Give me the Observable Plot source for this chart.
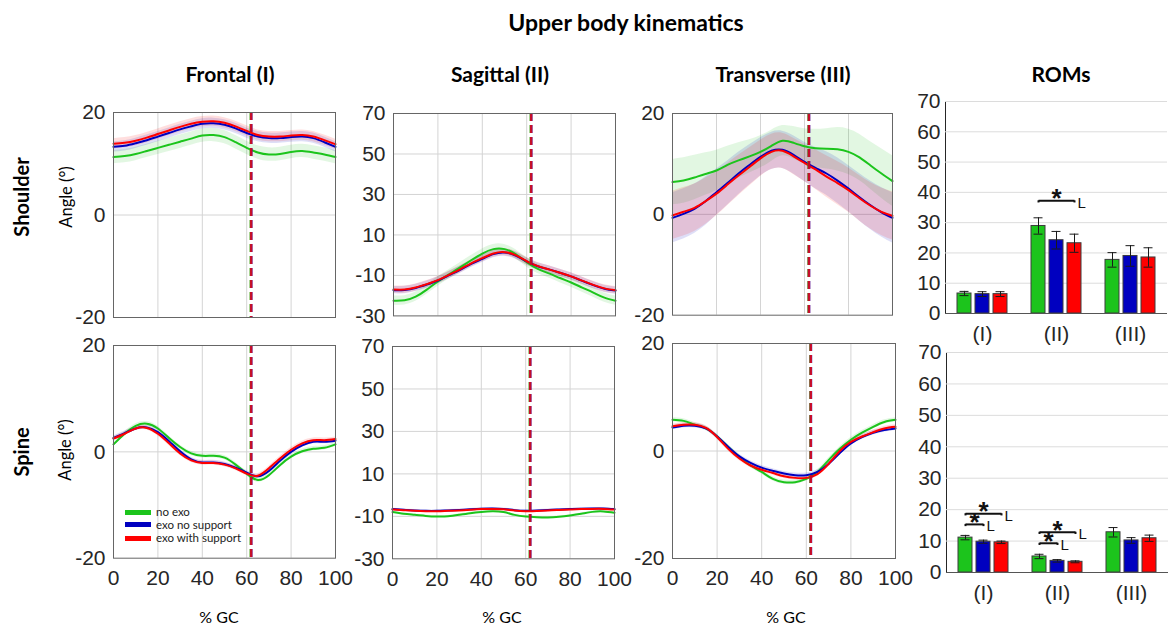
<!DOCTYPE html>
<html><head><meta charset="utf-8">
<script src="https://cdn.jsdelivr.net/npm/d3@7"></script>
<script src="https://cdn.jsdelivr.net/npm/@observablehq/plot@0.6"></script>
<style>
html,body{margin:0;padding:0;background:#fff;}
#root{position:relative;width:1176px;height:626px;overflow:hidden;background:#fff;font-family:Lato,"Open Sans",sans-serif;color:#000;}
.lbl{position:absolute;white-space:nowrap;line-height:1;}
</style></head><body><div id="root"></div>
<script>
// ---------- data ----------
const conds = ["no exo", "exo no support", "exo with support"];
const colors = ["#1cc41c", "#0000c0", "#ff0000"];
const gc = [0,5,10,15,20,25,30,35,40,45,50,55,60,65,70,75,80,85,90,95,100];
const gcTicks = [0,20,40,60,80,100];
const toeOff = [61.8, 62.1, 62.0];

// Shoulder – frontal (I)
const shFrNoExo = [11.3,11.5,11.9,12.5,13.1,13.7,14.3,14.9,15.5,15.6,15.2,14.2,13.1,12.2,11.8,11.9,12.3,12.5,12.2,11.8,11.3];
const shFrExoNS = [13.3,13.5,14.0,14.6,15.3,16.0,16.7,17.3,17.8,17.9,17.6,16.9,16.0,15.3,15.0,15.0,15.2,15.3,15.0,14.2,13.3];
const shFrExoS  = [13.9,14.1,14.5,15.1,15.8,16.5,17.2,17.8,18.2,18.3,18.0,17.3,16.4,15.6,15.3,15.3,15.5,15.6,15.3,14.6,13.8];
const shFrSD = [1.3, 1.0, 1.0];
// Shoulder – sagittal (II)
const shSaNoExo = [-22.5,-22.3,-20.5,-17.0,-13.0,-9.5,-6.0,-2.5,0.8,3.0,3.0,0.5,-3.5,-6.8,-9.0,-11.3,-13.5,-16.0,-18.5,-21.0,-22.5];
const shSaExoNS = [-17.3,-17.2,-16.2,-14.5,-12.5,-9.9,-7.2,-4.3,-1.8,0.5,1.3,-0.2,-3.1,-5.5,-7.0,-8.7,-10.5,-12.7,-14.8,-16.6,-17.5];
const shSaExoS  = [-17.0,-17.0,-16.0,-14.3,-12.3,-9.7,-7.0,-4.0,-1.5,0.8,1.5,0.0,-3.0,-5.4,-7.0,-8.7,-10.5,-12.6,-14.7,-16.4,-17.3];
const shSaSD = [2.3, 1.8, 1.8];
// Shoulder – transverse (III)
const shTrNoExo = [6.4,6.7,7.3,8.0,8.7,9.8,10.7,11.5,12.4,13.6,14.6,14.2,13.5,13.1,13.0,12.9,12.4,11.3,9.7,8.1,6.6];
const shTrExoNS = [-0.7,0.1,1.1,2.6,4.4,6.2,8.1,9.8,11.4,12.6,12.8,11.8,10.4,9.2,8.1,6.7,5.1,3.4,1.8,0.4,-0.7];
const shTrExoS  = [-0.2,0.5,1.3,2.6,4.1,5.9,7.7,9.4,11.1,12.4,12.6,11.5,10.2,8.9,7.5,6.2,4.8,3.2,1.7,0.5,-0.3];
const shTrSDNoExo = [4.5,4.5,4.4,4.2,4.0,3.7,3.5,3.3,3.2,3.1,3.0,3.2,3.5,3.8,4.0,4.3,4.5,4.6,4.7,4.9,5.0];
const shTrSDExoNS = [5.0,5.0,4.9,4.8,4.6,4.4,4.2,4.0,3.8,3.7,3.7,3.8,3.9,4.1,4.3,4.5,4.6,4.7,4.8,4.9,5.0];
const shTrSDExoS  = [4.8,4.8,4.7,4.6,4.4,4.2,4.0,3.8,3.6,3.5,3.5,3.6,3.7,3.9,4.1,4.3,4.4,4.5,4.6,4.7,4.8];
// Spine – frontal (I)
const spFrNoExo = [1.4,3.4,4.9,5.3,4.4,2.6,0.9,-0.3,-0.75,-0.75,-1.1,-2.4,-4.1,-5.3,-4.4,-2.5,-0.9,0.1,0.6,0.75,1.4];
const spFrExoNS = [2.6,3.5,4.4,4.6,3.7,2.0,0.1,-1.4,-2.0,-2.0,-2.3,-3.0,-3.9,-4.6,-3.6,-1.7,0.0,1.2,1.9,1.9,2.1];
const spFrExoS  = [2.5,3.4,4.4,4.5,3.4,1.6,-0.3,-1.6,-2.1,-2.1,-2.4,-3.1,-4.1,-4.5,-3.1,-1.25,0.4,1.6,2.2,2.2,2.4];
const spFrSD = [0.4, 0.4, 0.4];
// Spine – sagittal (II)
const spSaNoExo = [-8.0,-8.8,-9.3,-9.8,-10.1,-10.0,-9.3,-8.5,-7.9,-7.6,-8.0,-9.3,-10.1,-10.4,-10.5,-10.2,-9.6,-8.8,-7.9,-7.7,-8.3];
const spSaExoNS = [-6.6,-6.9,-7.2,-7.4,-7.4,-7.2,-7.0,-6.7,-6.4,-6.3,-6.5,-7.1,-7.4,-7.3,-7.0,-6.8,-6.6,-6.4,-6.3,-6.3,-6.6];
const spSaExoS  = [-6.8,-7.1,-7.4,-7.6,-7.6,-7.4,-7.2,-6.9,-6.6,-6.5,-6.7,-7.3,-7.6,-7.5,-7.2,-7.0,-6.8,-6.6,-6.5,-6.5,-6.8];
const spSaSD = [0.4, 0.4, 0.4];
// Spine – transverse (III)
const spTrNoExo = [5.8,5.6,4.9,4.2,2.7,0.75,-1.1,-2.7,-3.9,-5.2,-5.8,-5.8,-5.2,-3.9,-1.7,0.4,2.1,3.4,4.5,5.4,5.8];
const spTrExoNS = [4.35,4.7,4.7,4.2,2.7,0.75,-1.0,-2.2,-3.1,-3.7,-4.2,-4.5,-4.5,-3.9,-2.4,-0.4,1.4,2.6,3.4,3.9,4.2];
const spTrExoS  = [4.6,4.9,4.9,4.3,2.6,0.4,-1.4,-2.7,-3.5,-4.1,-4.7,-5.0,-5.0,-4.3,-2.4,0.0,1.7,2.7,3.5,4.2,4.5];
const spTrSD = [0.4, 0.4, 0.4];

const ticks20 = [-20, 0, 20];
const ticksSag = [-30, -10, 10, 30, 50, 70];

// ROMs
const romGroups = ["(I)", "(II)", "(III)"];
const romTicks = [0,10,20,30,40,50,60,70];
const shRomNoExo = [6.6, 28.9, 17.7];
const shRomExoNS = [6.4, 24.2, 19.0];
const shRomExoS  = [6.4, 23.2, 18.5];
const shRomSDNoExo = [0.7, 2.7, 2.4];
const shRomSDExoNS = [0.8, 2.9, 3.4];
const shRomSDExoS  = [0.8, 3.0, 3.2];
const spRomNoExo = [11.1, 5.1, 12.8];
const spRomExoNS = [9.8, 3.7, 10.2];
const spRomExoS  = [9.6, 3.4, 10.9];
const spRomSDNoExo = [0.7, 0.7, 1.5];
const spRomSDExoNS = [0.5, 0.4, 0.9];
const spRomSDExoS  = [0.4, 0.3, 1.0];
const shSig = [{group:"(II)", from:"no exo", to:"exo with support", y:37.2}];
const spSig = [
  {group:"(I)", from:"no exo", to:"exo no support", y:15.3},
  {group:"(I)", from:"no exo", to:"exo with support", y:18.7},
  {group:"(II)", from:"no exo", to:"exo no support", y:9.3},
  {group:"(II)", from:"no exo", to:"exo with support", y:12.8}
];

// ---------- drawing ----------
const root = document.getElementById("root");
const tickFont = "'Liberation Sans', Arial, sans-serif";
const fmt = d => String(d);

function place(svg, left, top) {
  svg.style.position = "absolute";
  svg.style.left = left + "px";
  svg.style.top = top + "px";
  svg.style.maxWidth = "none";
  root.appendChild(svg);
}

function label(text, cx, cy, size, bold, rotate) {
  const d = document.createElement("div");
  d.className = "lbl";
  d.textContent = text;
  d.style.left = cx + "px";
  d.style.top = cy + "px";
  d.style.fontSize = size + "px";
  d.style.fontWeight = bold ? "700" : "400";
  d.style.transform = "translate(-50%,-50%)" + (rotate ? " rotate(-90deg)" : "");
  root.appendChild(d);
  return d;
}

function linePanel(frame, means, sds, yDomain, yTicks, showX) {
  const [l, t, r, b] = frame;
  const mL = 52, mR = 30, mT = 14, mB = showX ? 36 : 14;
  const rows = [];
  conds.forEach((c, ci) => {
    gc.forEach((x, j) => {
      const m = means[ci][j];
      const s = Array.isArray(sds[ci]) ? sds[ci][j] : sds[ci];
      rows.push({gc: x, cond: c, mean: m, lo: m - s, hi: m + s});
    });
  });
  const toeRows = conds.map((c, i) => ({cond: c, gc: toeOff[i]}));
  const svg = Plot.plot({
    width: r - l + mL + mR, height: b - t + mT + mB,
    marginLeft: mL, marginRight: mR, marginTop: mT, marginBottom: mB,
    style: {background: "transparent", fontFamily: tickFont, fontSize: "21px", color: "#262626", overflow: "visible"},
    x: {domain: [0, 100], ticks: gcTicks, tickSize: 0, tickPadding: 12, tickFormat: fmt, label: null, axis: showX ? "bottom" : null},
    y: {domain: yDomain, ticks: yTicks, tickSize: 0, tickPadding: 8, tickFormat: fmt, label: null},
    color: {domain: conds, range: colors},
    marks: [
      Plot.gridX(gcTicks.slice(1, -1), {stroke: "#d4d4d4", strokeOpacity: 1}),
      Plot.gridY(yTicks.slice(1, -1), {stroke: "#d4d4d4", strokeOpacity: 1}),
      Plot.areaY(rows, {x: "gc", y1: "lo", y2: "hi", fill: "cond", fillOpacity: 0.13, curve: "natural"}),
      Plot.lineY(rows, {x: "gc", y: "mean", stroke: "cond", strokeWidth: 2, curve: "natural"}),
      Plot.ruleX(toeRows, {x: "gc", stroke: "cond", strokeWidth: 2.5, strokeOpacity: 0.75, strokeDasharray: "8,4"}),
      Plot.frame({stroke: "#666"})
    ]
  });
  place(svg, l - mL, t - mT);
}

function romPanel(frame, means, sds, sig) {
  const [l, t, r, b] = frame;
  const mL = 46, mR = 6, mT = 14, mB = 40;
  const rows = [];
  romGroups.forEach((g, gi) => conds.forEach((c, ci) =>
    rows.push({group: g, cond: c, value: means[ci][gi], sd: sds[ci][gi]})));
  const svg = Plot.plot({
    width: r - l + mL + mR, height: b - t + mT + mB,
    marginLeft: mL, marginRight: mR, marginTop: mT, marginBottom: mB,
    style: {background: "transparent", fontFamily: tickFont, fontSize: "21px", color: "#262626", overflow: "visible"},
    fx: {domain: romGroups, padding: 0, axis: "bottom", tickSize: 0, tickPadding: 13, label: null},
    x: {domain: conds, paddingInner: 0.22, paddingOuter: 0.665, axis: null},
    y: {domain: [0, 70], ticks: romTicks, tickSize: 0, tickPadding: 5, tickFormat: fmt, label: null, line: true},
    color: {domain: conds, range: colors},
    marks: [
      Plot.gridY(romTicks.slice(1), {stroke: "#dcdcdc", strokeOpacity: 1}),
      Plot.barY(rows, {fx: "group", x: "cond", y: "value", fill: "cond", stroke: "#3c3c3c", strokeWidth: 1}),
      Plot.ruleX(rows, {fx: "group", x: "cond", y1: d => d.value - d.sd, y2: d => d.value + d.sd, stroke: "#1a1a1a", strokeWidth: 1}),
      Plot.tickY(rows, {fx: "group", x: "cond", y: d => d.value + d.sd, stroke: "#1a1a1a", inset: 2.5}),
      Plot.tickY(rows, {fx: "group", x: "cond", y: d => d.value - d.sd, stroke: "#1a1a1a", inset: 2.5}),
      Plot.ruleY([0], {stroke: "#555"}),
      Plot.link(sig, {fx: "group", x1: "from", x2: "to", y1: "y", y2: "y", stroke: "#111", strokeWidth: 2}),
      Plot.ruleX(sig, {fx: "group", x: "from", y1: "y", y2: d => d.y - 0.7, stroke: "#111", strokeWidth: 2}),
      Plot.ruleX(sig, {fx: "group", x: "to", y1: "y", y2: d => d.y - 0.7, stroke: "#111", strokeWidth: 2}),
      Plot.text(sig.filter(d => d.to === conds[2]), {fx: "group", x: () => conds[1], y: "y", text: () => "*", fontSize: 26, fontWeight: "bold", fill: "#111", dy: -2}),
      Plot.text(sig.filter(d => d.to === conds[1]), {fx: "group", x: "from", y: "y", text: () => "*", fontSize: 26, fontWeight: "bold", fill: "#111", dx: 9, dy: -2}),
      Plot.text(sig, {fx: "group", x: "to", y: "y", text: () => "L", fontSize: 15, fill: "#111", textAnchor: "start", dx: 3, dy: 2})
    ]
  });
  place(svg, l - mL, t - mT);
}

// Row 1: shoulder
linePanel([113, 111.7, 335, 316.7], [shFrNoExo, shFrExoNS, shFrExoS], shFrSD, [-20, 20], ticks20, false);
linePanel([393, 113.3, 615, 315.7], [shSaNoExo, shSaExoNS, shSaExoS], shSaSD, [-30, 70], ticksSag, false);
linePanel([672, 113.3, 892, 315], [shTrNoExo, shTrExoNS, shTrExoS], [shTrSDNoExo, shTrSDExoNS, shTrSDExoS], [-20, 20], ticks20, false);
romPanel([945, 100.7, 1167, 312.7], [shRomNoExo, shRomExoNS, shRomExoS], [shRomSDNoExo, shRomSDExoNS, shRomSDExoS], shSig);
// Row 2: spine
linePanel([113, 345, 335, 557.7], [spFrNoExo, spFrExoNS, spFrExoS], spFrSD, [-20, 20], ticks20, true);
linePanel([392, 346, 614, 558.3], [spSaNoExo, spSaExoNS, spSaExoS], spSaSD, [-30, 70], ticksSag, true);
linePanel([672, 343.3, 895, 558.3], [spTrNoExo, spTrExoNS, spTrExoS], spTrSD, [-20, 20], ticks20, true);
romPanel([946, 352, 1168, 572], [spRomNoExo, spRomExoNS, spRomExoS], [spRomSDNoExo, spRomSDExoNS, spRomSDExoS], spSig);

// Text
label("Upper body kinematics", 626, 22, 23, true);
label("Frontal (I)", 230, 73, 21, true);
label("Sagittal (II)", 500, 73, 21, true);
label("Transverse (III)", 783, 73, 21, true);
label("ROMs", 1061, 73, 21, true);
label("Shoulder", 21, 197, 20, true, true);
label("Spine", 21, 452, 20, true, true);
label("Angle (°)", 66, 197, 16.5, false, true);
label("Angle (°)", 65, 450, 16.5, false, true);
label("% GC", 219, 617, 16, false);
label("% GC", 502, 617, 16, false);
label("% GC", 786, 617, 16, false);

// Legend
const legendY = [512, 524.5, 538];
conds.forEach((c, i) => {
  const sw = document.createElement("div");
  sw.style.cssText = `position:absolute;left:125px;top:${legendY[i] - 2.5}px;width:26px;height:5px;background:${colors[i]};`;
  root.appendChild(sw);
  const t = document.createElement("div");
  t.className = "lbl";
  t.textContent = c;
  t.style.cssText += `left:156px;top:${legendY[i]}px;font-size:11.5px;transform:translateY(-50%);color:#222;`;
  root.appendChild(t);
});
</script></body></html>
